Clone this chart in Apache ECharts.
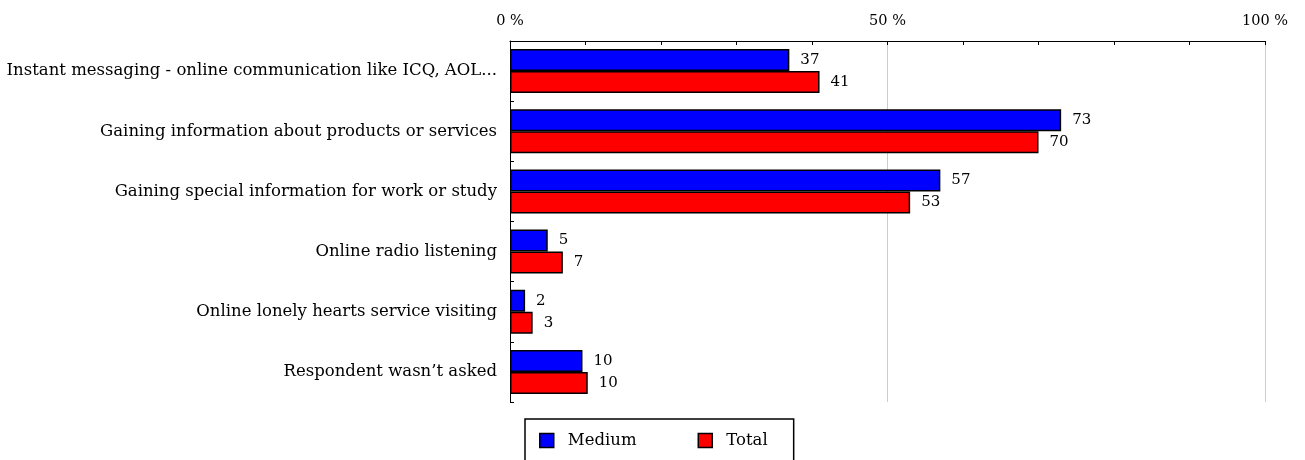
<!DOCTYPE html>
<html>
<head>
<meta charset="utf-8">
<script src="https://cdn.jsdelivr.net/npm/echarts@6/dist/echarts.min.js"></script>
<style>html,body{margin:0;padding:0;background:#fff;}#c{width:1305px;height:460px;}</style>
</head>
<body>
<div id="c"></div>
<script>
var categories = [
  "Instant messaging - online communication like ICQ, AOL...",
  "Gaining information about products or services",
  "Gaining special information for work or study",
  "Online radio listening",
  "Online lonely hearts service visiting",
  "Respondent wasn\u2019t asked"
];
var mediumValues = [37, 73, 57, 5, 2, 9.6];
var totalValues = [41, 70, 53, 7, 3, 10.3];
var seriesNames = ["Medium", "Total"];
var FONT = "DejaVu Serif";

var chart = echarts.init(document.getElementById('c'), null, {renderer: 'canvas'});
function lbl() {
  return {show: true, position: 'right', distance: 11, color: '#000', fontFamily: FONT, fontSize: 15,
    formatter: function (p) { return Math.round(p.value); }};
}
chart.setOption({
  animation: false,
  backgroundColor: '#fff',
  textStyle: {fontFamily: FONT},
  grid: {left: 510, right: 40, top: 41, bottom: 58},
  xAxis: [{
    type: 'value', position: 'top', min: 0, max: 100, interval: 10,
    axisLine: {show: true, lineStyle: {color: '#000', width: 1}},
    axisTick: {show: true, inside: true, length: 4, lineStyle: {color: '#000'}},
    axisLabel: {color: '#000', fontFamily: FONT, fontSize: 14.5, margin: 12,
      formatter: function (v) { return v % 50 === 0 ? v + ' %' : ''; }},
    splitLine: {show: false}
  }, {
    type: 'value', position: 'top', min: 0, max: 100, interval: 50,
    axisLine: {show: false}, axisTick: {show: false}, axisLabel: {show: false},
    splitLine: {show: true, lineStyle: {color: '#cccccc', width: 1}}
  }],
  yAxis: {
    type: 'category', data: categories, inverse: true,
    axisLine: {show: true, lineStyle: {color: '#000'}},
    axisTick: {show: true, inside: true, length: 4, lineStyle: {color: '#000'}},
    axisLabel: {color: '#000', fontFamily: FONT, fontSize: 16.5, margin: 13}
  },
  legend: {
    left: 525, top: 419, orient: 'horizontal',
    data: seriesNames,
    icon: 'rect',
    itemWidth: 14, itemHeight: 14, itemGap: 61,
    itemStyle: {borderColor: '#000', borderWidth: 1.5},
    borderColor: '#000', borderWidth: 1.5, borderRadius: 0,
    padding: [13, 26, 60, 14],
    textStyle: {color: '#000', fontFamily: FONT, fontSize: 16.5, padding: [0, 0, 0, 9]}
  },
  series: [{
    name: seriesNames[0], type: 'bar', data: mediumValues, xAxisIndex: 0,
    barGap: '0%', barCategoryGap: '27%',
    itemStyle: {color: '#0000ff', borderColor: '#000', borderWidth: 1.5},
    label: lbl()
  }, {
    name: seriesNames[1], type: 'bar', data: totalValues, xAxisIndex: 0,
    barGap: '0%', barCategoryGap: '27%',
    itemStyle: {color: '#ff0000', borderColor: '#000', borderWidth: 1.5},
    label: lbl()
  }]
});
</script>
</body>
</html>
